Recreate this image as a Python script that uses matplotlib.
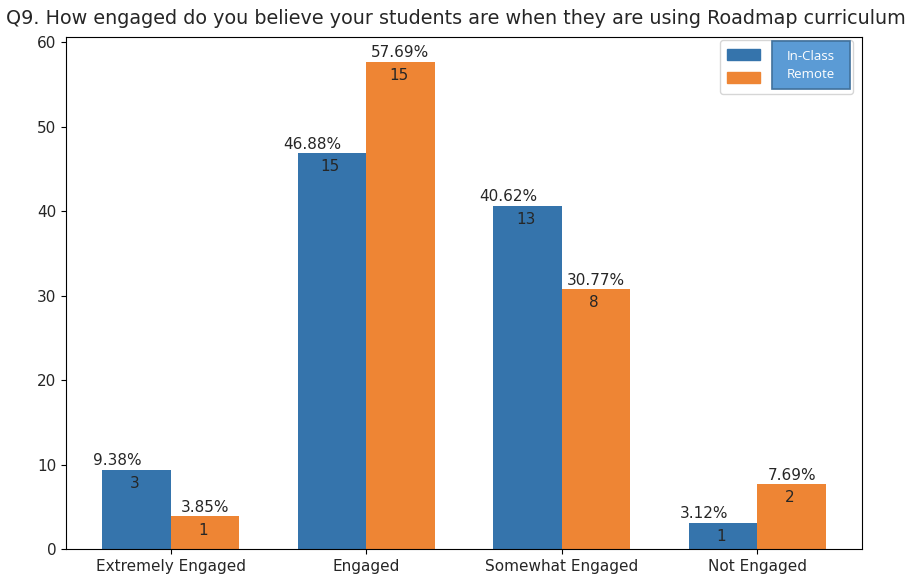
import matplotlib
matplotlib.use("Agg")
import matplotlib.pyplot as plt
import numpy as np
from matplotlib.patches import Patch, Rectangle

categories = ["Extremely Engaged", "Engaged", "Somewhat Engaged", "Not Engaged"]
inclass_pct = [9.38, 46.88, 40.62, 3.12]
remote_pct = [3.85, 57.69, 30.77, 7.69]
inclass_n = [3, 15, 13, 1]
remote_n = [1, 15, 8, 2]
series_names = ["In-Class", "Remote"]
title = "Q9. How engaged do you believe your students are when they are using Roadmap curriculum"

blue = "#3574AC"
orange = "#EE8534"
txt = "#262626"

W, H = 908, 578
fig = plt.figure(figsize=(9.08, 5.78), dpi=100)
ax = fig.add_axes([66/W, 1-549/H, (862-66)/W, (549-37)/H])

x = np.arange(len(categories))
w = 0.35
b1 = ax.bar(x - w/2, inclass_pct, w, color=blue)
b2 = ax.bar(x + w/2, remote_pct, w, color=orange)

for bars, pcts, ns, off in [(b1, inclass_pct, inclass_n, -0.10), (b2, remote_pct, remote_n, 0.0)]:
    for r, p, n in zip(bars, pcts, ns):
        cx = r.get_x() + r.get_width()/2
        ax.annotate(f"{p:.2f}%", (cx + off, r.get_height()), xytext=(0, 1),
                    textcoords="offset points", ha="center", va="bottom", fontsize=11, color=txt)
        ax.annotate(f"{n}", (cx - 0.01, r.get_height()), xytext=(0, -4.5),
                    textcoords="offset points", ha="center", va="top", fontsize=11, color=txt)

ax.set_xticks(x)
ax.set_xticklabels(categories, fontsize=11, color=txt)
ax.tick_params(axis="y", labelsize=11, labelcolor=txt)
ax.set_xlim(-0.535, 3.535)
ax.set_ylim(0, 60.6)
ax.set_yticks([0, 10, 20, 30, 40, 50, 60])

fig.text(456/W, 1-18/H, title, ha="center", va="center", fontsize=13.75, color=txt)

handles = [Patch(color=blue), Patch(color=orange)]
leg = ax.legend(handles, [" " * 15, " " * 15], loc="upper right", fontsize=11,
                handlelength=2.15, bbox_to_anchor=(853/W, 1-40/H),
                bbox_transform=fig.transFigure, borderaxespad=0, frameon=True,
                labelspacing=0.55, borderpad=0.5)
leg.get_frame().set_edgecolor("#cccccc")

# overlay box with series names
fig.patches.append(Rectangle((772/W, 1-89/H), 78/W, 48/H, transform=fig.transFigure,
                             facecolor="#5B9BD5", edgecolor="#41719C", linewidth=1.2, zorder=10))
fig.text(811/W, 1-56/H, series_names[0], ha="center", va="center", fontsize=9.5,
         color="white", family="Open Sans", zorder=11)
fig.text(811/W, 1-74/H, series_names[1], ha="center", va="center", fontsize=9.5,
         color="white", family="Open Sans", zorder=11)

fig.savefig("out.png", dpi=100)
